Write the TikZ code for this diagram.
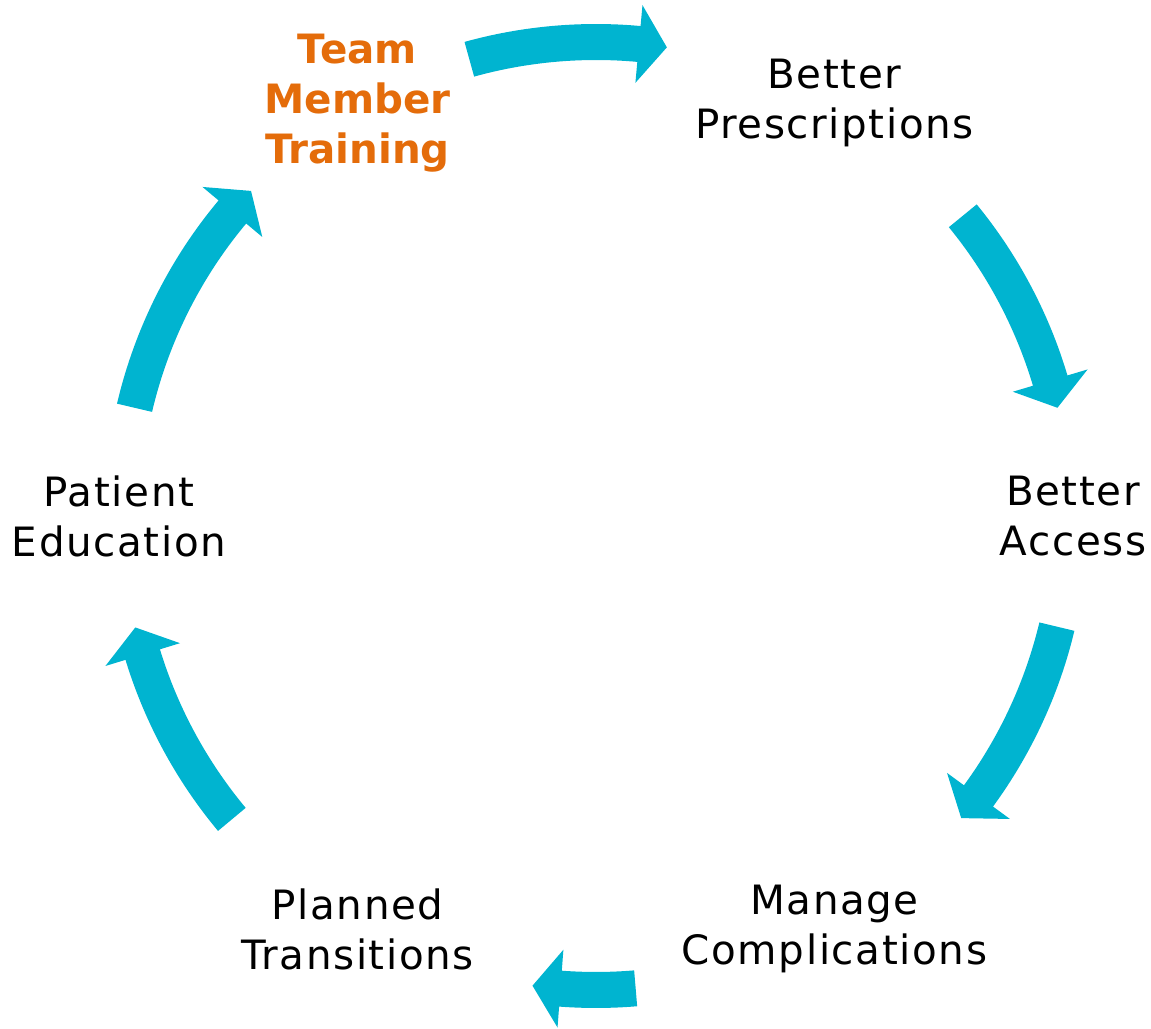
\documentclass[tikz,border=0pt]{standalone}
\usepackage{fontspec}
\setmainfont{DejaVu Sans}[LetterSpace=4]
\newfontfamily\leadfont{DejaVu Sans}
\usepackage{tikz}

\definecolor{arrowblue}{RGB}{0,180,208}
\definecolor{leadorange}{RGB}{228,108,10}

% curved block arrow on the ring, running clockwise from angle #1 to angle #2
\newcommand{\cyclearrow}[2]{%
  \fill[arrowblue] (#1:9.84) arc[start angle=#1, end angle={#2+3.4}, radius=9.84]
    -- ({#2+3.4}:10.26) -- (#2:9.48) -- ({#2+3.4}:8.70) -- ({#2+3.4}:9.12)
    arc[start angle={#2+3.4}, end angle=#1, radius=9.12] -- cycle;}

\begin{document}
\begin{tikzpicture}[stage/.style={align=center, inner sep=0pt,
        font=\fontsize{23}{28.5}\selectfont},
        lead stage/.style={stage, text=leadorange,
        font=\fontsize{23}{28.5}\leadfont\bfseries}
        ]
        \useasboundingbox (-11.92,-10.26) rectangle (11.10,10.32);

        \node [lead stage] (training) at (120:9.54) {Team\\Member\\Training} ;
        \node [stage] (prescr) at (60:9.54) {Better\\Prescriptions} ;
        \node [stage] (access) at (0:9.54) {Better\\Access} ;
        \node [stage] (complic) at (-60:9.54) {Manage\\Complications} ;
        \node [stage] (transit) at (-120:9.54) {Planned\\Transitions} ;
        \node [stage] (educ) at (180:9.54) {Patient\\Education} ;

        % arrows between the stages
        \cyclearrow{105.5}{81.4}
        \cyclearrow{39.3}{13.2}
        \cyclearrow{-13.5}{-39.6}
        \cyclearrow{-85.2}{-97.7}
        \cyclearrow{-140.2}{-166.4}
        \cyclearrow{166.8}{136.7}
     \end{tikzpicture}
\end{document}
